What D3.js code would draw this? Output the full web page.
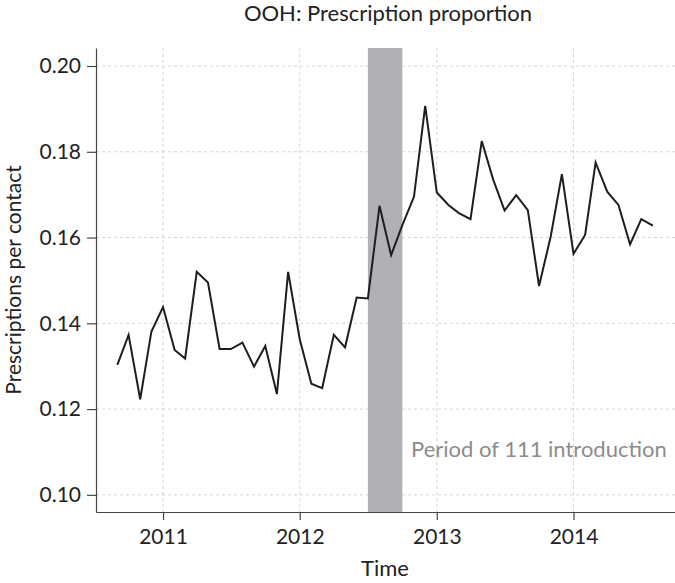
<!DOCTYPE html>
<html>
<head>
<meta charset="utf-8">
<title>OOH: Prescription proportion</title>
<style>
  body { margin: 0; background: #fff; }
  svg text { font-family: Lato, "Noto Sans", sans-serif; }
</style>
</head>
<body>
<script src="https://d3js.org/d3.v7.min.js"></script>
<script>

// monthly values, Sep 2010 .. Aug 2014
var startMonth = "2010-09";
var values = [
  0.1303, 0.1373, 0.1223, 0.1381,
  0.1438, 0.1338, 0.1318, 0.1520, 0.1495, 0.1340, 0.1340, 0.1355, 0.1299, 0.1347, 0.1235, 0.1520,
  0.1363, 0.1259, 0.1249, 0.1373, 0.1344, 0.1460, 0.1458, 0.1674, 0.1559, 0.1629, 0.1695, 0.1907,
  0.1705, 0.1676, 0.1657, 0.1643, 0.1825, 0.1734, 0.1663, 0.1699, 0.1664, 0.1487, 0.1602, 0.1748,
  0.1562, 0.1606, 0.1775, 0.1707, 0.1676, 0.1584, 0.1643, 0.1628
];
var yTicks = [0.10, 0.12, 0.14, 0.16, 0.18, 0.20];
var xTicks = ["2011-01-01", "2012-01-01", "2013-01-01", "2014-01-01"];
var band = ["2012-07-01", "2012-10-01"];
var bandLabel = "Period of 111 introduction";

var W = 675, H = 583;
var margin = {top: 48, right: 0, bottom: 71, left: 96};

var parse = d3.timeParse("%Y-%m-%d");
var data = values.map(function(v, i) {
  return {date: d3.timeMonth.offset(d3.timeParse("%Y-%m")(startMonth), i), value: v};
});

var svg = d3.select("body").append("svg")
    .attr("width", W)
    .attr("height", H);

var x = d3.scaleTime()
    .domain([parse("2010-07-06"), parse("2014-09-29")])
    .range([margin.left, W - margin.right]);
var y = d3.scaleLinear()
    .domain([0.096, 0.2042])
    .range([H - margin.bottom, margin.top]);

// grid
svg.append("g").selectAll("line")
    .data(yTicks).enter().append("line")
    .attr("x1", margin.left).attr("x2", W - margin.right)
    .attr("y1", function(d) { return y(d); })
    .attr("y2", function(d) { return y(d); })
    .attr("stroke", "#d4d4d4").attr("stroke-dasharray", "3,3");
svg.append("g").selectAll("line")
    .data(xTicks).enter().append("line")
    .attr("x1", function(d) { return x(parse(d)); })
    .attr("x2", function(d) { return x(parse(d)); })
    .attr("y1", margin.top).attr("y2", H - margin.bottom)
    .attr("stroke", "#d4d4d4").attr("stroke-dasharray", "3,3");

// shaded period
svg.append("rect")
    .attr("x", x(parse(band[0])))
    .attr("width", x(parse(band[1])) - x(parse(band[0])))
    .attr("y", margin.top)
    .attr("height", H - margin.bottom - margin.top)
    .attr("fill", "#b1b1b5");

svg.append("text")
    .attr("x", 411)
    .attr("y", 457)
    .attr("fill", "#8c8c8c")
    .style("font-size", "22px")
    .text(bandLabel);

// axes
var xAxis = svg.append("g")
    .attr("transform", "translate(0," + (H - margin.bottom) + ")")
    .call(d3.axisBottom(x)
      .tickValues(xTicks.map(parse))
      .tickFormat(d3.timeFormat("%Y"))
      .tickSize(8).tickSizeOuter(0).tickPadding(9));
var yAxis = svg.append("g")
    .attr("transform", "translate(" + margin.left + ",0)")
    .call(d3.axisLeft(y)
      .tickValues(yTicks)
      .tickFormat(d3.format(".2f"))
      .tickSize(9).tickSizeOuter(0).tickPadding(6));

[xAxis, yAxis].forEach(function(g) {
  g.select(".domain").attr("stroke", "#444").attr("stroke-width", 1.2);
  g.selectAll(".tick line").attr("stroke", "#444").attr("stroke-width", 1.2);
  g.selectAll(".tick text")
    .attr("fill", "#222")
    .style("font-size", "21px")
    .style("font-family", "Lato, 'Noto Sans', sans-serif");
});

// line
svg.append("path")
    .datum(data)
    .attr("fill", "none")
    .attr("stroke", "#1e1e1e")
    .attr("stroke-width", 2)
    .attr("stroke-linejoin", "miter")
    .attr("d", d3.line()
      .x(function(d) { return x(d.date); })
      .y(function(d) { return y(d.value); }));

// titles
svg.append("text")
    .attr("x", 388).attr("y", 21)
    .attr("text-anchor", "middle")
    .attr("fill", "#222")
    .style("font-size", "22px")
    .text("OOH: Prescription proportion");

svg.append("text")
    .attr("x", 385).attr("y", 576)
    .attr("text-anchor", "middle")
    .attr("fill", "#222")
    .style("font-size", "22px")
    .text("Time");

svg.append("text")
    .attr("transform", "translate(21," + ((margin.top + H - margin.bottom) / 2) + ") rotate(-90)")
    .attr("text-anchor", "middle")
    .attr("fill", "#222")
    .style("font-size", "21px")
    .text("Prescriptions per contact");

</script>
</body>
</html>
